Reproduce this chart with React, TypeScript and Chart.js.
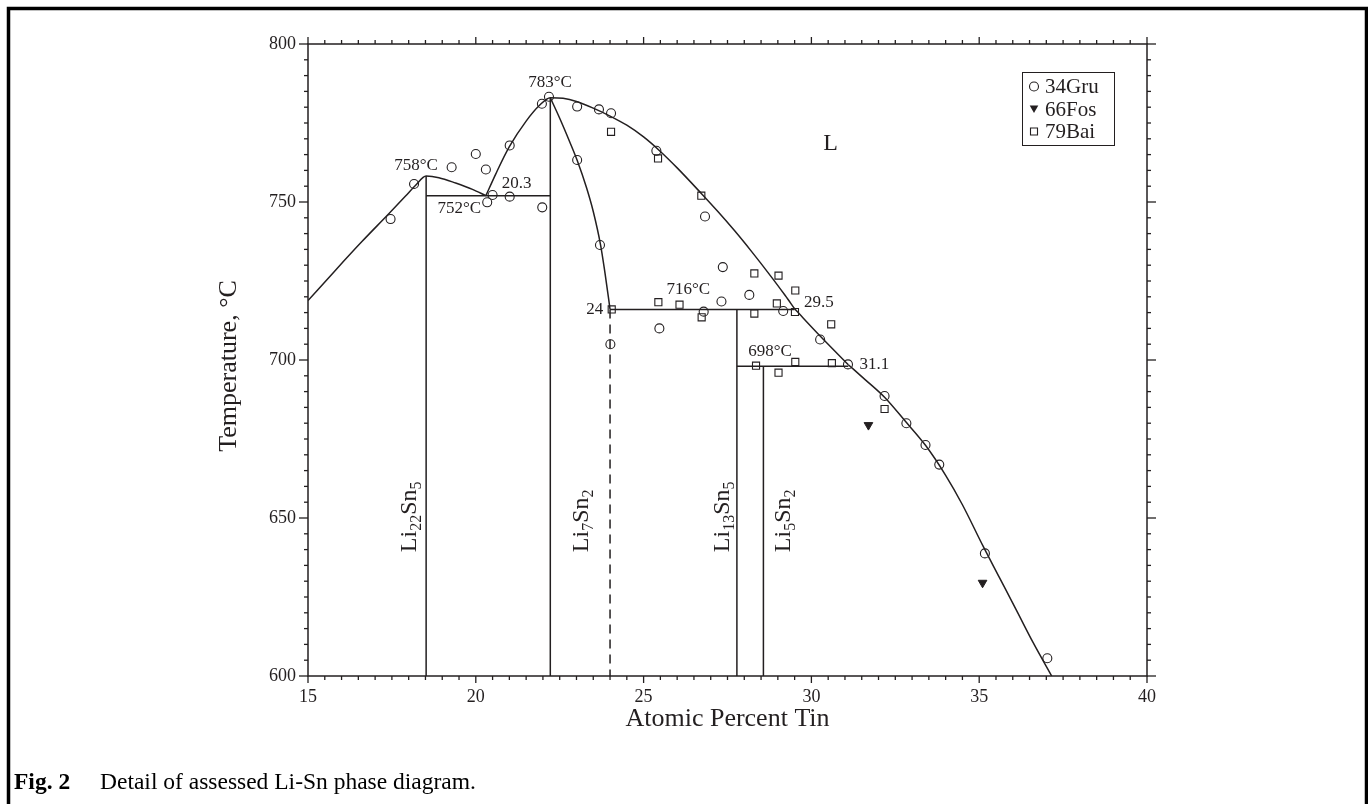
import { useEffect, useRef } from "react";
import { Chart, registerables } from "chart.js";

Chart.register(...registerables);

const SERIF = "'Liberation Serif', 'Times New Roman', serif";
const INK = "#231f20";

// Axis ranges and ticks
const X_MIN = 15;
const X_MAX = 40;
const T_MIN = 600;
const T_MAX = 800;
const X_MAJOR = 5;
const X_MINOR = 0.5;
const T_MAJOR = 50;
const T_MINOR = 5;

// 34Gru (open circles)
const gruX = [17.46, 18.16, 19.28, 20.0, 20.3, 20.5, 20.34, 21.01, 21.01, 21.98, 21.97, 22.18, 23.02, 23.67, 24.03, 23.02, 23.7, 25.38, 26.83, 27.36, 28.15, 27.32, 26.79, 25.47, 24.01, 29.16, 30.26, 31.09, 32.18, 32.83, 33.4, 33.81, 35.17, 37.03];
const gruT = [744.6, 755.7, 761.0, 765.2, 760.3, 752.2, 749.9, 751.7, 767.9, 748.3, 781.1, 783.3, 780.2, 779.3, 778.1, 763.3, 736.4, 766.2, 745.4, 729.4, 720.6, 718.5, 715.3, 710.0, 705.0, 715.5, 706.5, 698.6, 688.6, 680.0, 673.1, 666.9, 638.8, 605.6];

// 66Fos (filled down triangles)
const fosX = [31.7, 35.1];
const fosT = [679.4, 629.5];

// 79Bai (open squares)
const baiX = [24.05, 25.44, 26.07, 26.73, 28.3, 29.02, 29.52, 28.97, 28.3, 29.51, 30.59, 28.35, 29.02, 29.52, 30.61, 32.18, 24.03, 25.43, 26.72];
const baiT = [716.0, 718.3, 717.5, 713.5, 727.4, 726.7, 722.0, 717.9, 714.7, 715.2, 711.3, 698.2, 696.0, 699.4, 699.0, 684.5, 772.2, 763.8, 752.0];

// Liquidus, Li-rich side up to the 752 °C eutectic
const liqLeftX = [15, 15.8, 16.6, 17.4, 17.9, 18.2, 18.52, 18.9, 19.4, 19.9, 20.3];
const liqLeftT = [718.8, 728.2, 737.4, 746.2, 751.8, 755.2, 758.2, 757.7, 756.0, 754.0, 752.0];

// Liquidus from the 752 °C eutectic over the 783 °C maximum to the 716 °C peritectic
const liqMidX = [20.3, 20.6, 21.0, 21.5, 21.9, 22.22, 22.6, 23.0, 23.5, 24.0, 24.5, 25.0, 25.5, 26.0, 26.72, 27.22, 27.72, 28.22, 28.72, 29.22, 29.5];
const liqMidT = [752.0, 759.0, 767.5, 775.6, 780.6, 783.0, 782.8, 781.8, 779.7, 777.2, 774.3, 770.6, 766.0, 760.8, 752.7, 746.9, 740.8, 734.3, 727.5, 720.4, 716.2];

// Liquidus 716 °C -> 698 °C
const liqPerX = [29.5, 30.26, 31.1];
const liqPerT = [716.2, 707.6, 698.5];

// Liquidus below 698 °C
const liqLowX = [31.1, 31.6, 32.18, 32.8, 33.4, 34.0, 34.5, 35.12, 35.6, 36.1, 36.6, 37.16];
const liqLowT = [698.5, 693.8, 688.2, 680.6, 673.0, 663.5, 654.2, 641.0, 631.2, 621.0, 610.7, 600.0];

// Li7Sn2 Sn-side boundary (solid) and its dashed continuation
const li7BoundX = [22.22, 22.5, 22.8, 23.02, 23.3, 23.5, 23.72, 23.85, 23.95, 24.0];
const li7BoundT = [783.0, 776.5, 769.0, 763.2, 754.5, 747.0, 736.3, 727.5, 720.0, 716.0];
const li7DashX = [24.0, 24.0];
const li7DashT = [716.0, 600.0];

// Compounds (vertical lines)
const compoundX = [18.52, 22.22, 27.78, 28.57];
const compoundTopT = [758.2, 783.0, 716.0, 698.0];
const compoundSub1 = ["22", "7", "13", "5"];
const compoundSub2 = ["5", "2", "5", "2"];

// Invariant (horizontal) lines
const isoT = [752, 716, 698];
const isoFromX = [18.52, 24.0, 27.78];
const isoToX = [22.22, 29.5, 31.1];

// Legend
const legendLabels = ["34Gru", "66Fos", "79Bai"];

// Annotation texts
const noteText = ["783°C", "758°C", "752°C", "20.3", "24", "716°C", "29.5", "698°C", "31.1"];
const noteX = [22.21, 18.22, 19.51, 21.22, 23.8, 26.33, 29.78, 28.77, 31.43];
const noteT = [787.8, 761.6, 748.0, 755.7, 716.0, 722.4, 718.1, 702.6, 698.7];
const noteAlign = ["center", "center", "center", "center", "right", "center", "left", "center", "left"];

const pts = (xs: number[], ts: number[]) => xs.map((x, i) => ({ x, y: ts[i] }));

function drawMarker(ctx: CanvasRenderingContext2D, kind: string, x: number, y: number) {
  ctx.save();
  ctx.strokeStyle = INK;
  ctx.fillStyle = INK;
  ctx.lineWidth = 1.1;
  ctx.beginPath();
  if (kind === "circle") {
    ctx.arc(x, y, 4.5, 0, Math.PI * 2);
    ctx.stroke();
  } else if (kind === "rect") {
    ctx.rect(x - 3.5, y - 3.5, 7, 7);
    ctx.stroke();
  } else {
    ctx.moveTo(x - 4.3, y - 3.6);
    ctx.lineTo(x + 4.3, y - 3.6);
    ctx.lineTo(x, y + 3.9);
    ctx.closePath();
    ctx.fill();
  }
  ctx.restore();
}

const overlay = {
  id: "overlay",
  afterDraw(chart: any) {
    const { ctx, chartArea: a, scales } = chart;
    const xs = scales.x;
    const ys = scales.y;
    ctx.save();
    const seg = (x1: number, y1: number, x2: number, y2: number) => {
      ctx.beginPath();
      ctx.moveTo(x1, y1);
      ctx.lineTo(x2, y2);
      ctx.stroke();
    };

    // page frame
    ctx.strokeStyle = "#000";
    ctx.lineWidth = 3.5;
    ctx.beginPath();
    ctx.moveTo(8.5, 900);
    ctx.lineTo(8.5, 8.5);
    ctx.lineTo(1366.5, 8.5);
    ctx.lineTo(1366.5, 900);
    ctx.stroke();

    // plot frame
    ctx.strokeStyle = INK;
    ctx.lineWidth = 1.5;
    ctx.strokeRect(a.left, a.top, a.right - a.left, a.bottom - a.top);

    // ticks (outward on all four sides)
    ctx.lineWidth = 1.3;
    const nx = Math.round((X_MAX - X_MIN) / X_MINOR);
    const perX = Math.round(X_MAJOR / X_MINOR);
    for (let i = 0; i <= nx; i++) {
      const px = xs.getPixelForValue(X_MIN + i * X_MINOR);
      const len = i % perX === 0 ? 7 : 4;
      seg(px, a.bottom, px, a.bottom + len);
      seg(px, a.top, px, a.top - len);
    }
    const nt = Math.round((T_MAX - T_MIN) / T_MINOR);
    const perT = Math.round(T_MAJOR / T_MINOR);
    for (let i = 0; i <= nt; i++) {
      const py = ys.getPixelForValue(T_MIN + i * T_MINOR);
      const len = i % perT === 0 ? 9 : 4;
      seg(a.left, py, a.left - len, py);
      seg(a.right, py, a.right + len, py);
    }

    // annotations
    ctx.fillStyle = INK;
    ctx.textBaseline = "middle";
    ctx.font = `17px ${SERIF}`;
    noteText.forEach((t, i) => {
      ctx.textAlign = noteAlign[i];
      ctx.fillText(t, xs.getPixelForValue(noteX[i]), ys.getPixelForValue(noteT[i]));
    });
    ctx.font = `24px ${SERIF}`;
    ctx.textAlign = "center";
    ctx.fillText("L", xs.getPixelForValue(30.57), ys.getPixelForValue(768.3));

    // compound labels (rotated, with subscripts)
    const labelBaseX = [18.22, 23.34, 27.54, 29.36];
    compoundX.forEach((_, i) => {
      const px = xs.getPixelForValue(labelBaseX[i]);
      const py = ys.getPixelForValue(639.2);
      ctx.save();
      ctx.translate(px, py);
      ctx.rotate(-Math.PI / 2);
      ctx.textAlign = "left";
      ctx.textBaseline = "alphabetic";
      let cx = 0;
      const parts: [string, boolean][] = [["Li", false], [compoundSub1[i], true], ["Sn", false], [compoundSub2[i], true]];
      parts.forEach(([s, sub]) => {
        ctx.font = sub ? `16px ${SERIF}` : `24px ${SERIF}`;
        ctx.fillText(s, cx, sub ? 5 : 0);
        cx += ctx.measureText(s).width;
      });
      ctx.restore();
    });

    // axis titles
    ctx.font = `26px ${SERIF}`;
    ctx.textAlign = "center";
    ctx.textBaseline = "middle";
    ctx.fillText("Atomic Percent Tin", (a.left + a.right) / 2, 719);
    ctx.save();
    ctx.translate(229, 366);
    ctx.rotate(-Math.PI / 2);
    ctx.fillText("Temperature, °C", 0, 0);
    ctx.restore();

    // legend
    ctx.lineWidth = 1;
    ctx.strokeRect(1022.5, 72.5, 92, 73);
    const kinds = ["circle", "triangle", "rect"];
    ctx.font = `21px ${SERIF}`;
    ctx.textAlign = "left";
    legendLabels.forEach((lab, i) => {
      const ly = 86.5 + i * 22.5;
      drawMarker(ctx, kinds[i], 1034, ly);
      ctx.fillStyle = INK;
      ctx.fillText(lab, 1045, ly + 1);
    });

    // caption
    ctx.fillStyle = "#000";
    ctx.font = `bold 23.5px ${SERIF}`;
    ctx.fillText("Fig. 2", 14, 783);
    ctx.font = `23.5px ${SERIF}`;
    ctx.fillText("Detail of assessed Li-Sn phase diagram.", 100, 783);

    ctx.restore();
  },
};

export default function App() {
  const ref = useRef<HTMLCanvasElement | null>(null);

  useEffect(() => {
    if (!ref.current) return;
    const lineBase = {
      showLine: true,
      pointRadius: 0,
      borderColor: INK,
      borderWidth: 1.5,
      fill: false,
    };
    const curve = (label: string, xs: number[], ts: number[]) => ({
      ...lineBase,
      label,
      data: pts(xs, ts),
      cubicInterpolationMode: "monotone",
    });
    const datasets: any[] = [
      { label: "34Gru", data: pts(gruX, gruT), pointStyle: "circle", pointRadius: 4.5, borderColor: INK, borderWidth: 1.1, backgroundColor: "rgba(0,0,0,0)", showLine: false },
      { label: "66Fos", data: pts(fosX, fosT), pointStyle: "triangle", rotation: 180, pointRadius: 5, borderColor: INK, borderWidth: 1, backgroundColor: INK, showLine: false },
      { label: "79Bai", data: pts(baiX, baiT), pointStyle: "rect", pointRadius: 5, borderColor: INK, borderWidth: 1.1, backgroundColor: "rgba(0,0,0,0)", showLine: false },
      curve("liqLeft", liqLeftX, liqLeftT),
      curve("liqMid", liqMidX, liqMidT),
      curve("liqPer", liqPerX, liqPerT),
      curve("liqLow", liqLowX, liqLowT),
      curve("li7Bound", li7BoundX, li7BoundT),
      { ...lineBase, label: "li7Dash", data: pts(li7DashX, li7DashT), borderDash: [9, 6] },
      ...compoundX.map((x, i) => ({ ...lineBase, label: "c" + i, data: [{ x, y: compoundTopT[i] }, { x, y: T_MIN }] })),
      ...isoT.map((t, i) => ({ ...lineBase, label: "iso" + i, data: [{ x: isoFromX[i], y: t }, { x: isoToX[i], y: t }] })),
    ];

    const chart = new Chart(ref.current, {
      type: "scatter",
      data: { datasets },
      options: {
        responsive: false,
        animation: false,
        devicePixelRatio: 1,
        layout: { padding: { left: 0, right: 221, top: 44, bottom: 0 } },
        plugins: { legend: { display: false }, tooltip: { enabled: false } },
        scales: {
          x: {
            type: "linear",
            min: X_MIN,
            max: X_MAX,
            grid: { display: false, drawTicks: false },
            border: { display: false },
            ticks: { stepSize: X_MAJOR, padding: 10, color: INK, font: { family: SERIF, size: 18 }, maxRotation: 0 },
            afterFit: (s: any) => { s.height = 128; },
          },
          y: {
            type: "linear",
            min: T_MIN,
            max: T_MAX,
            grid: { display: false, drawTicks: false },
            border: { display: false },
            ticks: { stepSize: T_MAJOR, padding: 12, color: INK, font: { family: SERIF, size: 18 } },
            afterFit: (s: any) => { s.width = 308; },
          },
        },
      },
      plugins: [overlay],
    });
    return () => chart.destroy();
  }, []);

  return (
    <div style={{ position: "absolute", left: 0, top: 0, width: 1368, height: 804, background: "#fff" }}>
      <canvas ref={ref} width={1368} height={804} style={{ display: "block" }} />
    </div>
  );
}
